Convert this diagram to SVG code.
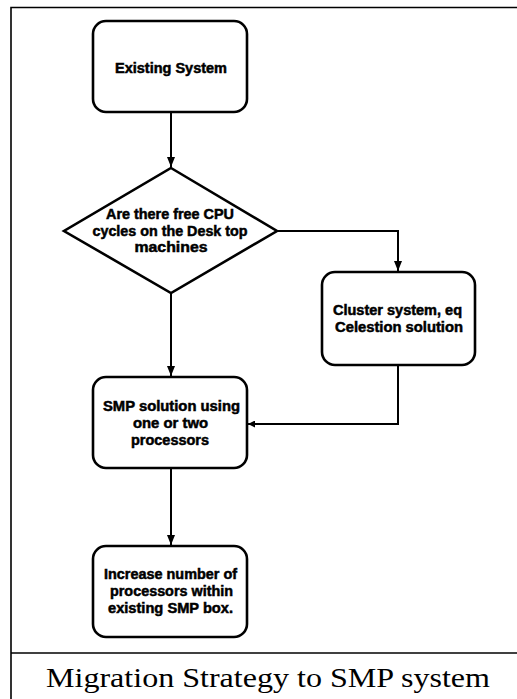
<svg xmlns="http://www.w3.org/2000/svg" width="517" height="699" viewBox="0 0 517 699">
<style>
.box{fill:#fff;stroke:#000;stroke-width:2.6}
.lbl{font-family:"Liberation Sans",Arial,sans-serif;font-weight:bold;font-size:14px;fill:#000;stroke:#000;stroke-width:0.5;text-anchor:middle}
.con{fill:none;stroke:#000;stroke-width:2}
.frame{fill:none;stroke:#000;stroke-width:1.6}
.cap{font-family:"Liberation Serif","Times New Roman",serif;font-size:27px;fill:#000;text-anchor:middle}
</style>
<defs>
<marker id="ah" viewBox="0 0 10 10" refX="10" refY="5" markerWidth="10" markerHeight="12" markerUnits="userSpaceOnUse" orient="auto">
<path d="M0,1 L10,5 L0,9 z" fill="#000"/>
</marker>
<marker id="ahs" viewBox="0 0 10 10" refX="10" refY="5" markerWidth="7" markerHeight="7" markerUnits="userSpaceOnUse" orient="auto">
<path d="M0,0 L10,5 L0,10 z" fill="#000"/>
</marker>
</defs>
<g id="frame">
<path class="frame" d="M11,699 V7.5 H517"/>
<path class="frame" d="M11,653 H517"/>
</g>
<g id="connectors">
<path class="con" d="M171,112 V167" marker-end="url(#ah)"/>
<path class="con" d="M277,231 H398 V271" marker-end="url(#ah)"/>
<path class="con" d="M171,293 V376" marker-end="url(#ah)"/>
<path class="con" d="M398,365 V424 H248" marker-end="url(#ahs)"/>
<path class="con" d="M171,468 V545" marker-end="url(#ah)"/>
</g>
<g id="existing">
<rect class="box" x="93" y="21" width="154" height="91" rx="13"/>
<text class="lbl" x="171" y="73" textLength="112" lengthAdjust="spacingAndGlyphs">Existing System</text>
</g>
<g id="decision">
<polygon class="box" points="171,168 277,231 171,293 64,231"/>
<text class="lbl" x="170" y="219" textLength="128" lengthAdjust="spacingAndGlyphs">Are there free CPU</text>
<text class="lbl" x="170" y="235.5" textLength="155" lengthAdjust="spacingAndGlyphs">cycles on the Desk top</text>
<text class="lbl" x="171" y="252" textLength="73" lengthAdjust="spacingAndGlyphs">machines</text>
</g>
<g id="cluster">
<rect class="box" x="322" y="272" width="153" height="93" rx="13"/>
<text class="lbl" x="397.5" y="315" textLength="129" lengthAdjust="spacingAndGlyphs">Cluster system, eq</text>
<text class="lbl" x="399" y="332" textLength="128" lengthAdjust="spacingAndGlyphs">Celestion solution</text>
</g>
<g id="smp">
<rect class="box" x="93" y="377" width="154" height="91" rx="13"/>
<text class="lbl" x="171.5" y="411" textLength="137" lengthAdjust="spacingAndGlyphs">SMP solution using</text>
<text class="lbl" x="170.5" y="428" textLength="75" lengthAdjust="spacingAndGlyphs">one or two</text>
<text class="lbl" x="170" y="445" textLength="78" lengthAdjust="spacingAndGlyphs">processors</text>
</g>
<g id="increase">
<rect class="box" x="93" y="546" width="154" height="91" rx="13"/>
<text class="lbl" x="170.5" y="579" textLength="133" lengthAdjust="spacingAndGlyphs">Increase number of</text>
<text class="lbl" x="171.5" y="596" textLength="123" lengthAdjust="spacingAndGlyphs">processors within</text>
<text class="lbl" x="170.5" y="612.5" textLength="125" lengthAdjust="spacingAndGlyphs">existing SMP box.</text>
</g>
<g id="caption">
<text class="cap" x="268" y="687" textLength="444" lengthAdjust="spacingAndGlyphs">Migration Strategy to SMP system</text>
</g>
</svg>
